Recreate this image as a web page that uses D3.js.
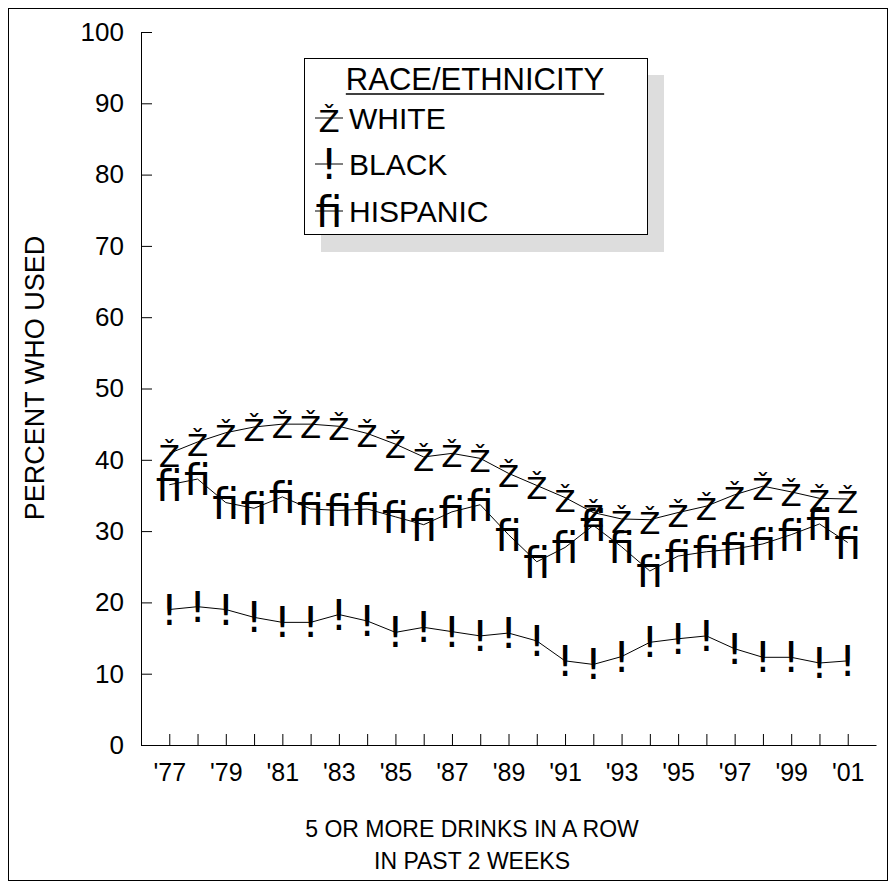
<!DOCTYPE html>
<html>
<head>
<meta charset="utf-8">
<script src="https://cdn.jsdelivr.net/npm/d3@7"></script>
<style>
  body { margin: 0; background: #fff; }
  text { font-family: "Liberation Sans", Arial, sans-serif; fill: #000; }
  .marker { font-family: "DejaVu Sans", sans-serif; }
</style>
</head>
<body>
<div id="chart"></div>
<script>
// values
var years = [1977, 1978, 1979, 1980, 1981, 1982, 1983, 1984, 1985, 1986, 1987, 1988, 1989,
             1990, 1991, 1992, 1993, 1994, 1995, 1996, 1997, 1998, 1999, 2000, 2001];
var white = [40.9, 42.5, 43.8, 44.6, 45.0, 45.0, 44.7, 43.7, 42.2, 40.4, 40.9, 40.2, 38.1,
             36.4, 34.7, 32.6, 31.7, 31.6, 32.6, 33.5, 35.1, 36.3, 35.5, 34.6, 34.5];
var black = [19.0, 19.4, 19.0, 17.9, 17.2, 17.2, 18.3, 17.4, 15.8, 16.5, 15.9, 15.3, 15.7,
             14.6, 11.8, 11.3, 12.4, 14.4, 14.9, 15.3, 13.5, 12.3, 12.3, 11.5, 11.8];
var hispanic = [36.5, 37.3, 34.0, 33.2, 34.8, 33.1, 32.9, 33.1, 32.0, 30.9, 32.7, 33.7, 29.5,
                25.7, 27.7, 30.8, 27.8, 24.4, 26.5, 27.1, 27.5, 28.2, 29.5, 31.0, 28.4];
var yTicks = [0, 10, 20, 30, 40, 50, 60, 70, 80, 90, 100];
var seriesNames = ["WHITE", "BLACK", "HISPANIC"];
var seriesGlyphs = ["\u017D", "!", "\uFB01"];

var series = [
    { name: seriesNames[0], glyph: seriesGlyphs[0], values: white, size: 31, dy: 14 },
    { name: seriesNames[1], glyph: seriesGlyphs[1], values: black, size: 43, dy: 15 },
    { name: seriesNames[2], glyph: seriesGlyphs[2], values: hispanic, size: 43, dy: 16 }
];

var W = 896, H = 888;

var svg = d3.select("#chart").append("svg")
    .attr("width", W)
    .attr("height", H);

// outer frame
svg.append("rect")
    .attr("x", 8.5).attr("y", 8.5)
    .attr("width", 879).attr("height", 872)
    .attr("fill", "none").attr("stroke", "#000").attr("stroke-width", 1);

var x = d3.scaleLinear().domain([1976, 2002]).range([141, 876]);
var y = d3.scaleLinear().domain([0, 100]).range([745, 32]);

// y axis, ticks pointing inwards
var yAxis = svg.append("g")
    .attr("transform", "translate(" + x.range()[0] + ",0)")
    .call(d3.axisLeft(y).tickValues(yTicks).tickSize(-11).tickSizeOuter(0).tickPadding(17));
yAxis.selectAll("text").style("font-size", "26px");

// x axis, a tick per year and a label every second year
var xAxis = svg.append("g")
    .attr("transform", "translate(0," + y(0) + ")")
    .call(d3.axisBottom(x).tickValues(years).tickSize(-11).tickSizeOuter(0).tickPadding(18)
        .tickFormat(function (d) { return d % 2 === 1 ? "'" + String(d).slice(2) : ""; }));
xAxis.selectAll("text").style("font-size", "25px");

svg.selectAll(".domain, .tick line").attr("stroke", "#000").attr("stroke-width", 1);

// axis titles
svg.append("text")
    .attr("transform", "translate(44,378) rotate(-90)")
    .attr("text-anchor", "middle")
    .style("font-size", "27px")
    .text("PERCENT WHO USED");

svg.append("text")
    .attr("x", 472).attr("y", 837)
    .attr("text-anchor", "middle")
    .style("font-size", "23px")
    .text("5 OR MORE DRINKS IN A ROW");
svg.append("text")
    .attr("x", 472).attr("y", 869)
    .attr("text-anchor", "middle")
    .style("font-size", "23px")
    .text("IN PAST 2 WEEKS");

// lines and markers
var line = d3.line()
    .x(function (d, i) { return x(years[i]); })
    .y(function (d) { return y(d); });

series.forEach(function (s) {
    var g = svg.append("g");
    g.selectAll("text")
        .data(s.values)
        .enter().append("text")
        .attr("class", "marker")
        .attr("x", function (d, i) { return x(years[i]); })
        .attr("y", function (d) { return y(d) + s.dy; })
        .attr("text-anchor", "middle")
        .style("font-size", s.size + "px")
        .text(s.glyph);
    g.append("path")
        .attr("d", line(s.values))
        .attr("fill", "none")
        .attr("stroke", "#000")
        .attr("stroke-width", 1);
});

// legend with drop shadow
var lg = svg.append("g");
lg.append("rect")
    .attr("x", 321).attr("y", 75).attr("width", 343).attr("height", 177)
    .attr("fill", "#dddddd");
lg.append("rect")
    .attr("x", 304.5).attr("y", 58.5).attr("width", 343).attr("height", 176)
    .attr("fill", "#fff").attr("stroke", "#000").attr("stroke-width", 1);

var title = lg.append("text")
    .attr("x", 475).attr("y", 90)
    .attr("text-anchor", "middle")
    .style("font-size", "31px")
    .text("RACE/ETHNICITY");
var tb = title.node().getBBox();
lg.append("line")
    .attr("x1", tb.x).attr("x2", tb.x + tb.width)
    .attr("y1", 94).attr("y2", 94)
    .attr("stroke", "#000").attr("stroke-width", 1.5);

var rowY = [118, 164, 211];
series.forEach(function (s, i) {
    lg.append("line")
        .attr("x1", 315).attr("x2", 343)
        .attr("y1", rowY[i]).attr("y2", rowY[i])
        .attr("stroke", "#000").attr("stroke-width", 1);
    lg.append("text")
        .attr("class", "marker")
        .attr("x", 329).attr("y", rowY[i] + s.dy)
        .attr("text-anchor", "middle")
        .style("font-size", s.size + "px")
        .text(s.glyph);
    lg.append("text")
        .attr("x", 349).attr("y", rowY[i] + 11)
        .style("font-size", "30px")
        .text(s.name);
});
</script>
</body>
</html>
